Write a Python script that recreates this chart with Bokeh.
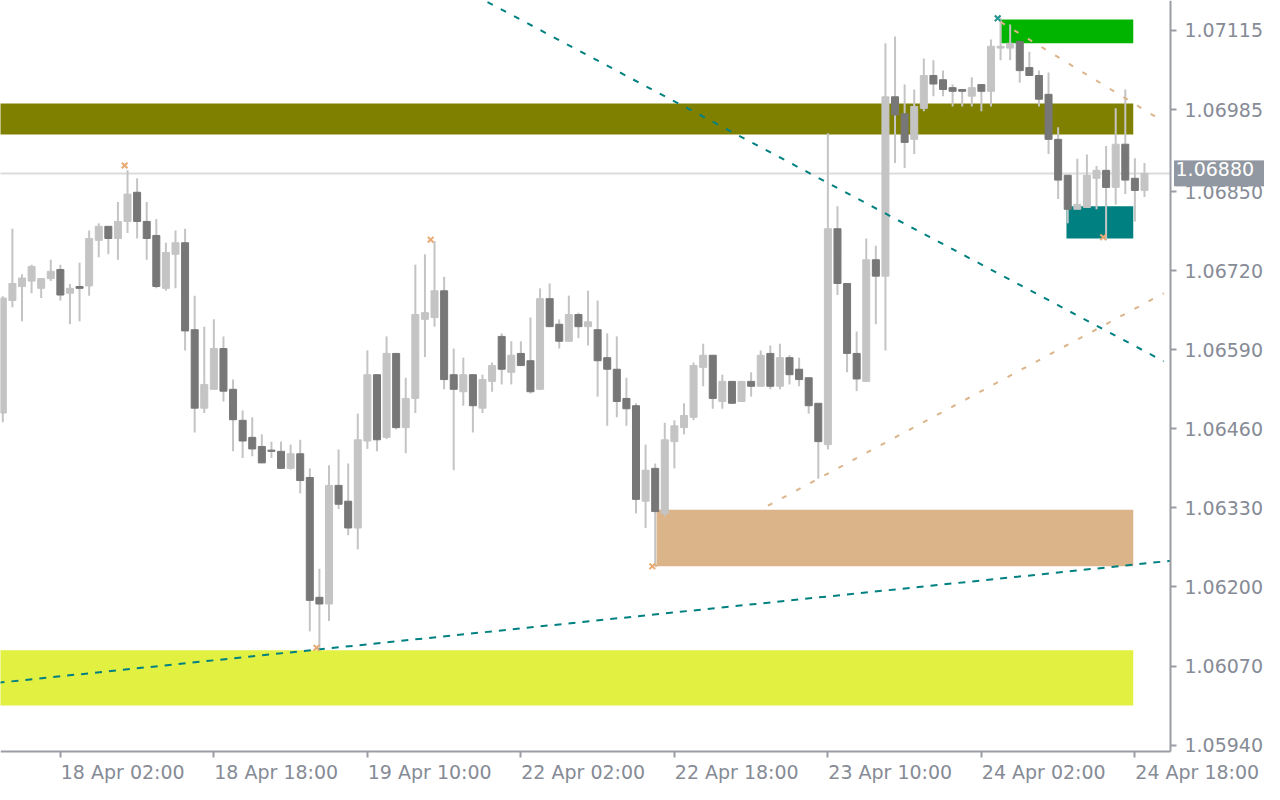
from bokeh.plotting import figure
from bokeh.models import FixedTicker, Label, Range1d, ColumnDataSource, PrintfTickFormatter, LinearAxis
from bokeh.embed import file_html
from bokeh.resources import INLINE

# ---- H1 candles, bar index 0 = 17 Apr 20:00 ----
opens = [1.06486, 1.06671, 1.06694, 1.06703, 1.06691, 1.06707, 1.06722, 1.06683, 1.06694, 1.06695,
         1.06770, 1.06793, 1.06773, 1.06801, 1.06849, 1.06801, 1.06778, 1.06691, 1.06747, 1.06766,
         1.06623, 1.06494, 1.06525, 1.06592, 1.06525, 1.06474, 1.06446, 1.06431, 1.06425, 1.06423,
         1.06395, 1.06419, 1.06380, 1.06183, 1.06172, 1.06367, 1.06341, 1.06297, 1.06440, 1.06549,
         1.06446, 1.06584, 1.06462, 1.06510, 1.06640, 1.06643, 1.06687, 1.06549, 1.06521, 1.06549,
         1.06494, 1.06538, 1.06612, 1.06553, 1.06584, 1.06572, 1.06525, 1.06674, 1.06632, 1.06604,
         1.06648, 1.06628, 1.06623, 1.06577, 1.06558, 1.06510, 1.06498, 1.06341, 1.06395, 1.06321,
         1.06439, 1.06462, 1.06479, 1.06561, 1.06581, 1.06505, 1.06538, 1.06505, 1.06538, 1.06530,
         1.06584, 1.06530, 1.06577, 1.06558, 1.06544, 1.06502, 1.06434, 1.06789, 1.06699, 1.06584,
         1.06538, 1.06738, 1.06711, 1.07006, 1.06978, 1.06936, 1.06987, 1.07041, 1.07034, 1.07021,
         1.07018, 1.07007, 1.07026, 1.07015, 1.07086, 1.07086, 1.07097, 1.07054, 1.07041, 1.07010,
         1.06936, 1.06877, 1.06821, 1.06824, 1.06872, 1.06885, 1.06857, 1.06928, 1.06872, 1.06852]
highs = [1.06678, 1.06789, 1.06714, 1.06730, 1.06707, 1.06738, 1.06730, 1.06698, 1.06733, 1.06786,
         1.06798, 1.06793, 1.06833, 1.06885, 1.06872, 1.06833, 1.06805, 1.06766, 1.06786, 1.06789,
         1.06679, 1.06628, 1.06640, 1.06612, 1.06541, 1.06490, 1.06479, 1.06451, 1.06439, 1.06439,
         1.06434, 1.06442, 1.06395, 1.06230, 1.06400, 1.06426, 1.06403, 1.06485, 1.06589, 1.06549,
         1.06612, 1.06584, 1.06544, 1.06730, 1.06747, 1.06769, 1.06710, 1.06592, 1.06577, 1.06549,
         1.06549, 1.06569, 1.06617, 1.06604, 1.06604, 1.06643, 1.06691, 1.06699, 1.06640, 1.06679,
         1.06651, 1.06687, 1.06671, 1.06617, 1.06612, 1.06544, 1.06502, 1.06434, 1.06403, 1.06470,
         1.06474, 1.06502, 1.06569, 1.06600, 1.06581, 1.06549, 1.06538, 1.06538, 1.06553, 1.06589,
         1.06597, 1.06600, 1.06581, 1.06577, 1.06544, 1.06502, 1.06946, 1.06826, 1.06699, 1.06620,
         1.06773, 1.06761, 1.07094, 1.07105, 1.07026, 1.07018, 1.07069, 1.07066, 1.07049, 1.07026,
         1.07018, 1.07038, 1.07026, 1.07100, 1.07136, 1.07125, 1.07097, 1.07080, 1.07049, 1.07046,
         1.06956, 1.06877, 1.06904, 1.06911, 1.06892, 1.06925, 1.06987, 1.07018, 1.06905, 1.06897]
lows = [1.06471, 1.06660, 1.06637, 1.06683, 1.06675, 1.06703, 1.06671, 1.06632, 1.06637, 1.06679,
        1.06742, 1.06747, 1.06738, 1.06782, 1.06773, 1.06738, 1.06691, 1.06687, 1.06691, 1.06589,
        1.06454, 1.06486, 1.06525, 1.06505, 1.06423, 1.06412, 1.06415, 1.06404, 1.06412, 1.06395,
        1.06393, 1.06354, 1.06127, 1.06099, 1.06144, 1.06328, 1.06285, 1.06262, 1.06427, 1.06423,
        1.06443, 1.06459, 1.06420, 1.06486, 1.06578, 1.06628, 1.06525, 1.06392, 1.06498, 1.06454,
        1.06486, 1.06521, 1.06533, 1.06533, 1.06564, 1.06518, 1.06525, 1.06628, 1.06592, 1.06604,
        1.06609, 1.06597, 1.06513, 1.06465, 1.06479, 1.06465, 1.06321, 1.06297, 1.06234, 1.06316,
        1.06395, 1.06451, 1.06474, 1.06530, 1.06493, 1.06493, 1.06502, 1.06505, 1.06513, 1.06530,
        1.06525, 1.06525, 1.06533, 1.06530, 1.06485, 1.06378, 1.06426, 1.06680, 1.06553, 1.06522,
        1.06538, 1.06632, 1.06589, 1.06897, 1.06889, 1.06912, 1.06982, 1.07007, 1.07007, 1.06990,
        1.06990, 1.06990, 1.06982, 1.06990, 1.07066, 1.07066, 1.07029, 1.07041, 1.06990, 1.06912,
        1.06838, 1.06798, 1.06821, 1.06824, 1.06821, 1.06770, 1.06829, 1.06846, 1.06801, 1.06841]
closes = [1.06675, 1.06699, 1.06708, 1.06727, 1.06707, 1.06719, 1.06680, 1.06691, 1.06691, 1.06773,
          1.06793, 1.06773, 1.06801, 1.06846, 1.06801, 1.06773, 1.06694, 1.06750, 1.06766, 1.06621,
          1.06494, 1.06533, 1.06592, 1.06522, 1.06475, 1.06440, 1.06427, 1.06404, 1.06423, 1.06395,
          1.06419, 1.06375, 1.06178, 1.06172, 1.06367, 1.06336, 1.06297, 1.06442, 1.06549, 1.06442,
          1.06584, 1.06462, 1.06510, 1.06648, 1.06651, 1.06687, 1.06541, 1.06525, 1.06549, 1.06498,
          1.06541, 1.06564, 1.06558, 1.06581, 1.06564, 1.06521, 1.06674, 1.06628, 1.06604, 1.06648,
          1.06628, 1.06636, 1.06572, 1.06558, 1.06505, 1.06493, 1.06344, 1.06392, 1.06324, 1.06442,
          1.06465, 1.06482, 1.06564, 1.06581, 1.06510, 1.06538, 1.06502, 1.06538, 1.06530, 1.06581,
          1.06530, 1.06577, 1.06549, 1.06541, 1.06498, 1.06439, 1.06789, 1.06699, 1.06584, 1.06542,
          1.06738, 1.06711, 1.07006, 1.06976, 1.06931, 1.06990, 1.07041, 1.07027, 1.07018, 1.07015,
          1.07015, 1.07021, 1.07015, 1.07089, 1.07089, 1.07094, 1.07049, 1.07041, 1.07002, 1.06936,
          1.06869, 1.06821, 1.06829, 1.06877, 1.06885, 1.06857, 1.06928, 1.06869, 1.06852, 1.06880]
bars = list(range(len(opens)))

# time axis labels (bar index -> label)
tick_bars = [6, 22, 38, 54, 70, 86, 102, 118]
tick_labels = ["18 Apr 02:00", "18 Apr 18:00", "19 Apr 10:00", "22 Apr 02:00",
               "22 Apr 18:00", "23 Apr 10:00", "24 Apr 02:00", "24 Apr 18:00"]

price_ticks = [1.05940, 1.06070, 1.06200, 1.06330, 1.06460, 1.06590,
               1.06720, 1.06850, 1.06985, 1.07115]
bid_price = 1.06880

# chart window: first / last visible bar position, lowest / highest visible price
chart_left, chart_right = -0.24, 121.71
chart_low, chart_high = 1.059295, 1.071643
canvas_right, canvas_low = 131.51, 1.058752

# zones: left bar, right bar, top price, bottom price, colour
zone_left = [-5, 104.07, 110.87, 68.14, -5]
zone_right = [117.83, 117.83, 117.83, 117.83, 117.83]
zone_top = [1.06995, 1.07133, 1.06826, 1.06327, 1.06096]
zone_bottom = [1.06944, 1.07094, 1.06773, 1.06234, 1.06005]
zone_color = ["#808000", "#00b400", "#008080", "#dbb48a", "#e1f041"]

# trend lines (bar, price)
teal_upper_x = [45, 121]
teal_upper_y = [1.07208, 1.06571]
teal_lower_x = [-2, 121.71]
teal_lower_y = [1.06040, 1.06243]
tan_upper_x = [104, 121]
tan_upper_y = [1.07129, 1.06965]
tan_lower_x = [68, 121]
tan_lower_y = [1.06234, 1.06683]

# swing markers (bar, price)
mark_x = [12.7, 44.6, 32.7, 67.7, 103.7, 114.7]
mark_y = [1.06893, 1.06771, 1.06100, 1.06234, 1.07135, 1.06775]

FONT = "DejaVu Sans"
FSIZE = "19px"
TXT = "#868b96"
AX = "#9a9da4"
LIGHT = "#c4c4c4"
DARK = "#777777"
LABEL_SHIFT = 6.5   # bars: time labels start at their tick (left aligned)

up = [c >= o for o, c in zip(opens, closes)]
src = ColumnDataSource(dict(
    x=bars, o=opens, h=highs, l=lows, c=closes,
    top=[max(o, c) for o, c in zip(opens, closes)],
    bot=[min(o, c) for o, c in zip(opens, closes)],
    col=[LIGHT if u else DARK for u in up],
))

p = figure(frame_width=1264, frame_height=784, output_backend="svg", toolbar_location=None,
           x_range=Range1d(chart_left, canvas_right), y_range=Range1d(canvas_low, chart_high),
           y_axis_location="right", min_border_left=0, min_border_top=0,
           min_border_right=0, min_border_bottom=0, background_fill_color="white",
           border_fill_color="white")
p.outline_line_color = None
p.grid.visible = False

# zones
p.quad(left=zone_left, right=zone_right, top=zone_top, bottom=zone_bottom,
       fill_color=zone_color, line_color=None)

# bid line
p.line(x=[-5, chart_right], y=[bid_price, bid_price], line_color="#dcdcdc", line_width=2)

# candles
p.segment(x0="x", x1="x", y0="h", y1="l", source=src, line_color=LIGHT, line_width=2)
p.vbar(x="x", width=0.73, top="top", bottom="bot", source=src, fill_color="col",
       line_color="col", line_width=1)

# trend lines
p.line(teal_upper_x, teal_upper_y, line_color="#008080", line_width=2, line_dash="6 9")
p.line(teal_lower_x, teal_lower_y, line_color="#008080", line_width=2, line_dash="7 7")
p.line(tan_upper_x, tan_upper_y, line_color="#dbb48a", line_width=2, line_dash="5 11")
p.line(tan_lower_x, tan_lower_y, line_color="#dbb48a", line_width=2, line_dash="5 11")

# markers
p.scatter(mark_x, mark_y, marker="x", size=8, line_width=2, line_color="#e8aa72")
p.scatter([mark_x[4]], [mark_y[4]], marker="x", size=8, line_width=2, line_color="#1a9a9a")

# time axis: line + tick marks (as minor ticks) ...
xa = p.xaxis[0]
xa.ticker = FixedTicker(ticks=[], minor_ticks=tick_bars)
xa.fixed_location = chart_low
xa.bounds = (chart_left, chart_right)
xa.axis_line_color = AX
xa.axis_line_width = 2
xa.major_tick_line_color = None
xa.minor_tick_line_color = AX
xa.minor_tick_line_width = 2
xa.minor_tick_in = 0
xa.minor_tick_out = 6
# ... and left-aligned labels that start at each tick
xb = LinearAxis(ticker=FixedTicker(ticks=[t + LABEL_SHIFT for t in tick_bars]))
xb.major_label_overrides = {t + LABEL_SHIFT: s for t, s in zip(tick_bars, tick_labels)}
xb.fixed_location = chart_low
xb.axis_line_color = None
xb.major_tick_line_color = None
xb.minor_tick_line_color = None
xb.major_tick_out = 0
xb.major_tick_in = 0
xb.major_label_standoff = 10
xb.major_label_text_font = FONT
xb.major_label_text_font_size = FSIZE
xb.major_label_text_color = TXT
p.add_layout(xb, "below")

# price axis
ya = p.yaxis[0]
ya.ticker = FixedTicker(ticks=price_ticks)
ya.formatter = PrintfTickFormatter(format="%.5f")
ya.fixed_location = chart_right
ya.bounds = (chart_low, chart_high)
ya.axis_line_color = AX
ya.axis_line_width = 2
ya.major_tick_line_color = AX
ya.major_tick_line_width = 2
ya.major_tick_in = 0
ya.major_tick_out = 6
ya.minor_tick_line_color = None
ya.major_label_standoff = 8
ya.major_label_text_font = FONT
ya.major_label_text_font_size = FSIZE
ya.major_label_text_color = TXT

# bid price tag on the price scale
p.add_layout(Label(x=chart_right + 0.42, y=bid_price, text="%.5f" % bid_price, text_align="left",
                   text_baseline="middle", text_font=FONT, text_font_size=FSIZE,
                   text_color="white", background_fill_color="#9298a1",
                   border_line_color="#9298a1", padding=(1, 10, 1, 10)))

open("out.html", "w").write(file_html(p, INLINE))
